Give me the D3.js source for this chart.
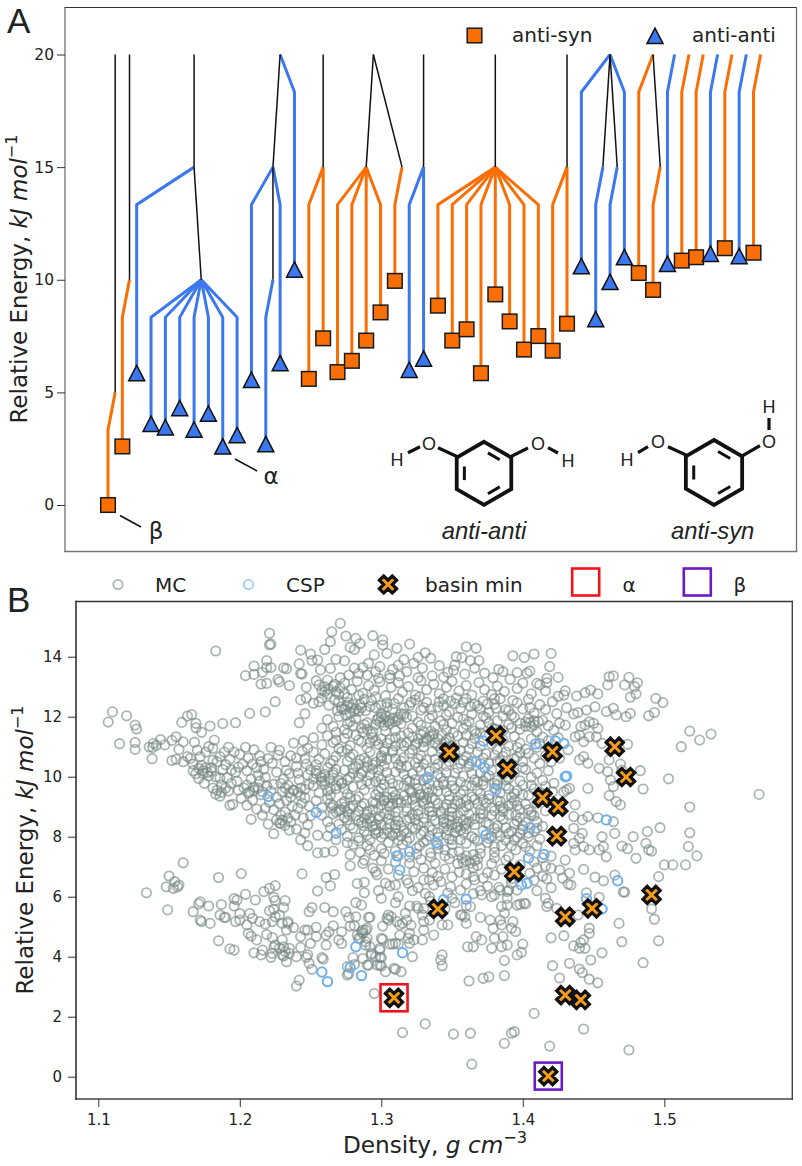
<!DOCTYPE html>
<html>
<head>
<meta charset="utf-8">
<script src="https://cdn.jsdelivr.net/npm/d3@7"></script>
<style>
html, body { margin: 0; padding: 0; background: #fff; }
svg { display: block; }
text { font-family: "DejaVu Sans", sans-serif; fill: #222; }
</style>
</head>
<body>
<div id="chart"></div>
<script>
// panel A: one entry per leaf of the disconnectivity tree
var leafKinds = ['s','s','t','t','t','t','t','t','t','t','t','t','t','t','s','s','s','s','s','s','s','t','t','s','s','s','s','s','s','s','s','s','s','t','t','t','t','s','s','t','s','s','t','s','t','s'];
var leafEnergy = [0,2.6,5.85,3.6,3.45,4.3,3.35,4.05,2.6,3.1,5.55,2.7,6.3,10.45,5.6,7.4,5.9,6.4,7.3,8.55,9.95,6.0,6.5,8.85,7.3,7.8,5.85,9.35,8.15,6.9,7.5,6.85,8.05,10.6,8.25,9.9,11.0,10.3,9.55,10.7,10.85,11.0,11.15,11.4,11.05,11.2];
var parentPos = [0.5,1.5,6,6.5,6.5,6.5,6.5,6.5,6.5,6.5,11.5,11.5,11.5,12,15,15,18,18,18,18,20.5,22,22,27,27,27,27,27,27,27,27,32,32,35,34.5,35.5,35,38,38.5,39.5,40.5,41.5,42.5,43.5,44.5,45.5];
var parentLevel = [5,10,15,10,10,10,10,10,10,10,15,10,15,20,15,15,15,15,15,15,15,15,15,15,15,15,15,15,15,15,15,15,15,20,15,15,20,20,15,20,20,20,20,20,20,20];
// black links between basins: from pos, from level, to pos, to level
var basinLinks = [[0.5,5,0.5,20],[1.5,10,1.5,20],[6.5,10,6,15],[6,15,6,20],[11.5,10,11.5,15],[11.5,15,12,20],[15,15,15,20],[18,15,18.5,20],[20.5,15,18.5,20],[22,15,22,20],[27,15,27,20],[32,15,32,20],[34.5,15,35,20],[35.5,15,35,20],[38.5,15,38,20]];
var yTicksA = [0,5,10,15,20];
var yTicksB = [0,2,4,6,8,10,12,14];
var xTicksB = [1.1,1.2,1.3,1.4,1.5];

// panel B: density, energy pairs
var basinMin = [[1.348,10.81],[1.381,11.37],[1.389,10.26],[1.421,10.83],[1.465,11.0],[1.473,9.99],[1.414,9.3],[1.425,9.0],[1.424,8.02],[1.394,6.83],[1.491,6.06],[1.34,5.59],[1.43,5.33],[1.449,5.61],[1.43,2.72],[1.441,2.56],[1.309,2.63],[1.418,0.02]];
var alphaPoint = [1.309,2.63];
var betaPoint = [1.418,0.02];
var cspPoints = [[1.22,9.34],[1.254,8.81],[1.268,8.12],[1.311,7.36],[1.32,7.5],[1.313,6.89],[1.339,7.8],[1.374,8.06],[1.405,8.3],[1.404,7.29],[1.399,6.39],[1.403,6.45],[1.36,5.92],[1.344,5.9],[1.315,4.13],[1.282,4.33],[1.278,3.64],[1.286,3.37],[1.258,3.49],[1.262,3.17],[1.372,11.19],[1.409,11.09],[1.423,11.19],[1.429,11.11],[1.367,10.5],[1.373,10.3],[1.333,9.98],[1.43,10.0],[1.431,10.02],[1.381,9.56],[1.459,8.56],[1.415,7.41],[1.467,6.53],[1.445,5.93],[1.456,5.59],[1.34,5.6]];

var mcUpperLeft = [[1.183,14.19],[1.221,14.78],[1.221,14.4],[1.222,14.42],[1.204,13.37],[1.21,13.69],[1.21,13.41],[1.215,13.09],[1.219,13.11],[1.216,13.48],[1.219,13.87],[1.219,13.64],[1.222,13.64],[1.227,13.24],[1.228,13.16],[1.231,13.63],[1.233,13.6],[1.235,13.04],[1.243,14.22],[1.242,13.76],[1.243,13.44],[1.244,13.42],[1.271,15.11],[1.265,14.83],[1.264,14.5],[1.26,14.24],[1.275,14.69],[1.282,14.61],[1.285,14.44],[1.278,14.31],[1.281,14.24],[1.294,14.7],[1.301,14.56],[1.301,14.39],[1.311,14.28],[1.32,14.42],[1.304,14.11],[1.295,14.06],[1.25,14.09],[1.255,13.89],[1.251,13.87],[1.268,13.91],[1.274,13.86],[1.264,13.61],[1.257,13.56],[1.287,13.64],[1.291,13.78],[1.284,13.44],[1.277,13.39],[1.299,13.67],[1.306,13.39],[1.306,13.28],[1.296,13.5],[1.29,13.39],[1.207,12.11],[1.218,12.16],[1.225,12.5],[1.243,12.56],[1.247,12.62],[1.252,12.45],[1.256,12.5],[1.246,12.1],[1.242,11.8]];
var mcLeftWing = [[1.11,12.16],[1.107,11.82],[1.12,12.03],[1.126,11.72],[1.127,11.59],[1.115,11.1],[1.126,11.14],[1.126,10.91],[1.136,10.99],[1.138,10.6],[1.139,11.11],[1.144,11.24],[1.1385,10.97],[1.141,11.05],[1.147,11.06],[1.152,11.21],[1.152,10.54],[1.155,11.33],[1.155,10.58],[1.16,11.16],[1.157,10.91],[1.16,10.5],[1.159,11.81],[1.163,12.02],[1.166,12.07],[1.169,11.78],[1.169,11.63],[1.173,11.48],[1.179,11.69],[1.188,11.77],[1.197,11.8],[1.163,10.67],[1.165,10.61],[1.167,10.2],[1.17,10.89],[1.172,10.67],[1.174,10.11],[1.171,9.94],[1.178,11],[1.182,11.22],[1.186,10.67],[1.168,11.15],[1.176,10.82],[1.181,10.95],[1.184,10.5],[1.176,10.3],[1.18,10.18],[1.183,10.0],[1.187,9.72],[1.175,9.78],[1.192,10.98],[1.196,10.82],[1.193,10.58],[1.19,10.4],[1.2,10.75],[1.204,10.98],[1.202,10.42],[1.197,10.15],[1.205,10.2],[1.198,9.85],[1.203,9.62],[1.192,9.52],[1.186,9.35],[1.193,9.05],[1.195,9.08],[1.205,9.05],[1.21,10.9],[1.214,10.7],[1.212,10.3],[1.208,9.92],[1.21,9.65],[1.215,9.4],[1.212,8.92],[1.208,8.58],[1.216,8.72],[1.22,8.42],[1.224,8.1],[1.222,10.98],[1.22,10.6],[1.223,10.45],[1.226,10.15],[1.218,9.98],[1.224,9.75],[1.23,9.5],[1.228,9.1],[1.232,8.82],[1.236,8.5],[1.24,8.25],[1.243,7.9],[1.228,10.88],[1.232,10.5],[1.238,11.12],[1.245,11.2],[1.236,10.7],[1.24,10.35],[1.244,10.85],[1.248,10.95],[1.235,10.1],[1.242,9.9],[1.238,9.55],[1.246,9.3],[1.241,8.95],[1.25,8.7],[1.248,8.4],[1.235,8.22],[1.228,8.45],[1.248,7.7],[1.255,7.46],[1.26,7.48],[1.266,7.52],[1.255,8.05],[1.167,10.42],[1.173,10.38],[1.178,10.02],[1.181,10.55],[1.189,10.82],[1.188,10.24],[1.191,9.96],[1.194,9.78],[1.199,9.55],[1.206,9.45],[1.201,9.28],[1.209,9.22],[1.213,10.05],[1.217,10.25],[1.219,9.7],[1.222,9.52],[1.226,9.32],[1.224,8.9],[1.229,8.72],[1.227,10.72],[1.233,10.22],[1.231,9.92],[1.234,9.72],[1.236,9.32],[1.237,9.02],[1.24,10.62],[1.241,10.12],[1.243,9.62],[1.244,9.12],[1.239,8.72],[1.245,8.62],[1.246,8.12],[1.247,10.42],[1.249,9.75],[1.249,9.02],[1.215,10.5],[1.206,10.62],[1.199,10.32],[1.194,10.22],[1.186,9.95],[1.209,10.42],[1.214,9.85],[1.221,9.15],[1.218,8.95],[1.233,9.2],[1.23,8.55]];
// dense middle of the cloud, rows from the top down
var mcCoreRow1 = [[1.312,13.72],[1.318,13.5],[1.323,13.78],[1.329,13.62],[1.336,13.36],[1.331,14.13],[1.335,13.95],[1.326,13.98],[1.316,13.9],[1.341,13.7],[1.347,13.48],[1.352,13.72],[1.36,14.33],[1.367,14.28],[1.353,14.0],[1.357,13.97],[1.363,13.87],[1.369,13.87],[1.351,13.55],[1.359,13.42],[1.366,13.62],[1.373,13.45],[1.383,13.58],[1.386,13.5],[1.393,14.03],[1.401,13.97],[1.408,14.09],[1.42,14.11],[1.419,13.67],[1.396,13.47],[1.405,13.52],[1.403,13.45],[1.379,13.3],[1.308,13.58],[1.271,13.3],[1.262,13.22],[1.254,13.2],[1.281,13.62],[1.298,13.28],[1.313,13.36],[1.326,13.3],[1.344,13.32]];
var mcCoreRow2 = [[1.247,12.98],[1.256,13.06],[1.26,12.84],[1.266,13.02],[1.27,12.74],[1.274,13.12],[1.279,12.9],[1.283,13.18],[1.287,12.78],[1.291,13.04],[1.295,12.88],[1.299,13.16],[1.303,12.7],[1.307,12.98],[1.312,13.14],[1.315,12.82],[1.319,13.0],[1.324,12.72],[1.328,13.2],[1.332,12.9],[1.337,13.08],[1.341,12.76],[1.346,12.98],[1.35,13.18],[1.355,12.86],[1.36,13.04],[1.364,12.72],[1.369,13.14],[1.373,12.9],[1.378,12.74],[1.382,13.02],[1.387,12.84],[1.391,13.25],[1.396,12.94],[1.4,13.12],[1.406,12.76],[1.41,13.11],[1.412,13.06],[1.417,13.28],[1.417,13.13],[1.425,13.31],[1.416,12.86],[1.425,12.68],[1.43,12.86],[1.429,12.72],[1.438,12.69],[1.444,12.8],[1.448,12.89],[1.453,12.76],[1.464,13.36],[1.461,13.33],[1.46,13.06],[1.475,13.31],[1.481,13.13],[1.479,13.0],[1.48,12.76],[1.476,12.65],[1.472,13.06],[1.499,12.47],[1.494,12.61],[1.493,12.14],[1.489,12.03]];
var mcCoreRow3 = [[1.258,12.62],[1.263,12.38],[1.267,12.56],[1.272,12.26],[1.276,12.64],[1.28,12.42],[1.284,12.18],[1.288,12.58],[1.292,12.34],[1.296,12.66],[1.3,12.12],[1.304,12.46],[1.308,12.26],[1.312,12.6],[1.316,12.08],[1.32,12.38],[1.324,12.56],[1.328,12.22],[1.332,12.48],[1.336,12.04],[1.34,12.32],[1.344,12.6],[1.348,12.16],[1.352,12.44],[1.356,12.28],[1.36,12.6],[1.364,12.08],[1.368,12.36],[1.372,12.52],[1.376,12.14],[1.38,12.42],[1.384,12.6],[1.388,12.24],[1.392,12.06],[1.396,12.46],[1.4,12.26],[1.404,12.58],[1.408,12.12],[1.412,12.4],[1.416,12.24],[1.421,12.5],[1.424,12.1],[1.431,12.3],[1.436,12.09],[1.439,12.14],[1.445,12.22],[1.451,12.33],[1.459,12.17],[1.464,12.28],[1.466,12.06],[1.473,12.0],[1.476,12.11],[1.284,12.72],[1.293,12.54],[1.309,12.44],[1.327,12.66],[1.341,12.5],[1.353,12.62],[1.366,12.42],[1.381,12.28],[1.393,12.54],[1.405,12.3],[1.27,12.5],[1.275,12.05]];
var mcCoreRow4 = [[1.262,11.9],[1.266,11.68],[1.27,12.0],[1.274,11.56],[1.278,11.84],[1.282,11.94],[1.286,11.62],[1.29,11.8],[1.294,11.5],[1.298,11.96],[1.302,11.7],[1.306,11.88],[1.31,11.54],[1.314,11.76],[1.318,11.98],[1.322,11.62],[1.326,11.82],[1.33,11.5],[1.334,11.94],[1.338,11.68],[1.342,11.86],[1.346,11.56],[1.35,11.78],[1.354,11.98],[1.358,11.6],[1.362,11.84],[1.366,11.52],[1.37,11.72],[1.374,11.96],[1.378,11.62],[1.382,11.86],[1.386,11.54],[1.39,11.74],[1.394,11.98],[1.398,11.58],[1.402,11.82],[1.406,11.66],[1.41,11.5],[1.414,11.88],[1.418,11.7],[1.426,11.78],[1.43,11.72],[1.441,11.67],[1.444,11.72],[1.447,11.83],[1.453,11.61],[1.45,11.78],[1.28,11.7],[1.296,11.74],[1.312,11.9],[1.328,11.72],[1.344,11.74],[1.36,11.74],[1.376,11.78],[1.392,11.62],[1.408,11.86],[1.422,11.55],[1.287,11.48],[1.303,11.52],[1.319,11.46],[1.335,11.52],[1.351,11.46],[1.367,11.44]];
var mcCoreRow5 = [[1.252,11.3],[1.258,11.06],[1.262,11.36],[1.266,11.14],[1.27,10.94],[1.274,11.28],[1.278,11.04],[1.282,11.38],[1.286,11.16],[1.29,10.96],[1.294,11.3],[1.298,11.08],[1.302,10.92],[1.306,11.24],[1.31,11.02],[1.314,11.36],[1.318,11.14],[1.322,10.9],[1.326,11.26],[1.33,11.0],[1.334,11.34],[1.338,11.12],[1.342,10.94],[1.346,11.22],[1.35,11.04],[1.354,11.36],[1.358,11.14],[1.362,10.92],[1.366,11.28],[1.37,11.02],[1.374,11.38],[1.378,11.08],[1.382,10.9],[1.386,11.22],[1.39,11.02],[1.394,11.34],[1.398,11.12],[1.402,10.92],[1.406,11.26],[1.41,10.98],[1.414,11.32],[1.418,11.2],[1.425,11.3],[1.432,10.9],[1.437,11.33],[1.44,11.39],[1.443,11.17],[1.447,11.33],[1.452,11.33],[1.456,11.11],[1.474,11.08],[1.268,11.22],[1.284,11.22],[1.3,11.26],[1.316,11.02],[1.332,11.2],[1.348,11.3],[1.364,11.1],[1.38,11.26],[1.396,10.98],[1.412,11.1],[1.276,10.9],[1.292,11.14],[1.308,10.88],[1.324,11.06],[1.34,11.04],[1.356,10.88]];
var mcCoreRow6 = [[1.252,10.82],[1.256,10.58],[1.26,10.76],[1.264,10.44],[1.268,10.68],[1.272,10.84],[1.276,10.52],[1.28,10.74],[1.284,10.42],[1.288,10.62],[1.292,10.82],[1.296,10.48],[1.3,10.7],[1.304,10.58],[1.308,10.82],[1.312,10.4],[1.316,10.64],[1.32,10.78],[1.324,10.46],[1.328,10.7],[1.332,10.56],[1.336,10.84],[1.34,10.42],[1.344,10.64],[1.348,10.5],[1.352,10.8],[1.356,10.44],[1.36,10.68],[1.364,10.52],[1.368,10.82],[1.372,10.62],[1.376,10.44],[1.38,10.72],[1.384,10.54],[1.388,10.82],[1.392,10.42],[1.396,10.66],[1.4,10.5],[1.404,10.78],[1.408,10.62],[1.412,10.44],[1.416,10.7],[1.42,10.5],[1.426,10.62],[1.44,10.56],[1.443,10.67],[1.446,10.45],[1.461,10.56],[1.266,10.54],[1.278,10.66],[1.29,10.5],[1.302,10.84],[1.314,10.52],[1.326,10.6],[1.338,10.58],[1.35,10.68],[1.362,10.44],[1.374,10.76],[1.386,10.68],[1.398,10.8],[1.254,10.4],[1.246,10.6],[1.25,10.24]];
var mcCoreRow7 = [[1.254,10.2],[1.258,9.96],[1.262,10.3],[1.266,10.06],[1.27,9.88],[1.274,10.22],[1.278,9.98],[1.282,10.34],[1.286,10.1],[1.29,9.86],[1.294,10.26],[1.298,10.02],[1.302,10.36],[1.306,9.92],[1.31,10.16],[1.314,10.3],[1.318,9.9],[1.322,10.1],[1.326,10.32],[1.33,9.88],[1.334,10.18],[1.338,10.3],[1.342,9.96],[1.346,10.14],[1.35,9.86],[1.354,10.28],[1.358,10.02],[1.362,10.34],[1.366,9.9],[1.37,10.12],[1.374,9.98],[1.378,10.22],[1.382,9.88],[1.386,10.08],[1.39,9.94],[1.394,10.14],[1.398,9.86],[1.402,10.24],[1.406,9.98],[1.41,10.12],[1.414,9.88],[1.418,10.2],[1.422,9.78],[1.454,10.28],[1.46,10.17],[1.469,10.42],[1.47,10.22],[1.462,9.89],[1.464,9.67],[1.268,10.24],[1.28,10.12],[1.292,10.06],[1.304,10.14],[1.316,10.08],[1.328,10.2],[1.34,10.08],[1.352,10.12],[1.364,10.1],[1.376,10.04],[1.388,9.9],[1.26,9.86],[1.272,9.76],[1.296,9.84],[1.32,9.84],[1.344,9.84],[1.368,9.82]];
var mcCoreRow8 = [[1.252,9.7],[1.256,9.46],[1.26,9.74],[1.264,9.38],[1.268,9.6],[1.272,9.8],[1.276,9.42],[1.28,9.66],[1.284,9.34],[1.288,9.56],[1.292,9.76],[1.296,9.4],[1.3,9.62],[1.304,9.32],[1.308,9.5],[1.312,9.72],[1.316,9.36],[1.32,9.58],[1.324,9.76],[1.328,9.42],[1.332,9.62],[1.336,9.3],[1.34,9.52],[1.344,9.74],[1.348,9.36],[1.352,9.6],[1.356,9.42],[1.36,9.7],[1.364,9.32],[1.368,9.56],[1.372,9.74],[1.376,9.38],[1.38,9.62],[1.384,9.46],[1.388,9.7],[1.392,9.32],[1.396,9.54],[1.4,9.72],[1.404,9.38],[1.408,9.6],[1.412,9.48],[1.416,9.68],[1.421,9.5],[1.431,9.56],[1.433,9.61],[1.429,9.5],[1.446,9.61],[1.461,9.37],[1.262,9.52],[1.274,9.6],[1.286,9.74],[1.298,9.52],[1.31,9.38],[1.322,9.46],[1.334,9.76],[1.346,9.5],[1.358,9.54],[1.37,9.44],[1.382,9.72],[1.394,9.44],[1.406,9.72],[1.278,9.3],[1.302,9.74],[1.326,9.6],[1.35,9.7]];
var mcCoreRow9 = [[1.254,9.2],[1.258,8.96],[1.262,9.26],[1.266,9.04],[1.27,8.86],[1.274,9.18],[1.278,8.94],[1.282,9.24],[1.286,9.02],[1.29,8.84],[1.294,9.16],[1.298,8.92],[1.302,9.22],[1.306,9.0],[1.31,8.82],[1.314,9.14],[1.318,8.96],[1.322,9.24],[1.326,8.88],[1.33,9.1],[1.334,8.98],[1.338,9.22],[1.342,8.84],[1.346,9.08],[1.35,8.94],[1.354,9.2],[1.358,8.86],[1.362,9.06],[1.366,9.24],[1.37,8.9],[1.374,9.12],[1.378,8.96],[1.382,9.2],[1.386,8.84],[1.39,9.04],[1.394,9.2],[1.398,8.9],[1.402,9.08],[1.406,8.82],[1.41,9.12],[1.416,8.86],[1.437,9.06],[1.466,9.17],[1.469,9.06],[1.518,8.99],[1.264,9.12],[1.276,8.82],[1.288,9.1],[1.3,9.06],[1.312,9.24],[1.324,9.06],[1.336,8.84],[1.348,9.24],[1.36,9.0],[1.372,9.24],[1.384,9.02],[1.396,9.04],[1.284,8.86],[1.308,9.1],[1.332,9.24],[1.356,9.1],[1.38,8.86]];
var mcCoreRow10 = [[1.258,8.72],[1.262,8.5],[1.266,8.76],[1.27,8.42],[1.274,8.64],[1.278,8.38],[1.282,8.7],[1.286,8.48],[1.29,8.74],[1.294,8.34],[1.298,8.58],[1.302,8.76],[1.306,8.42],[1.31,8.66],[1.314,8.36],[1.318,8.56],[1.322,8.74],[1.326,8.4],[1.33,8.62],[1.334,8.34],[1.338,8.54],[1.342,8.76],[1.346,8.44],[1.35,8.68],[1.354,8.34],[1.358,8.56],[1.362,8.74],[1.366,8.4],[1.37,8.62],[1.374,8.46],[1.378,8.72],[1.382,8.36],[1.386,8.58],[1.39,8.74],[1.394,8.42],[1.398,8.64],[1.402,8.48],[1.406,8.72],[1.41,8.5],[1.436,8.67],[1.442,8.56],[1.446,8.67],[1.453,8.63],[1.464,8.5],[1.414,8.35],[1.276,8.56],[1.288,8.62],[1.3,8.4],[1.312,8.52],[1.324,8.56],[1.336,8.7],[1.348,8.56],[1.36,8.44],[1.372,8.76],[1.384,8.68],[1.396,8.52],[1.264,8.3]];
var mcCoreRow11 = [[1.272,8.24],[1.276,8.02],[1.28,8.28],[1.284,7.96],[1.288,8.18],[1.292,7.9],[1.296,8.24],[1.3,7.98],[1.304,8.26],[1.308,8.04],[1.312,7.88],[1.316,8.2],[1.32,7.96],[1.324,8.26],[1.328,8.06],[1.332,7.88],[1.336,8.22],[1.34,7.98],[1.344,8.28],[1.348,7.92],[1.352,8.14],[1.356,7.9],[1.36,8.26],[1.364,8.0],[1.368,7.86],[1.372,8.2],[1.376,7.94],[1.38,8.28],[1.384,8.02],[1.388,7.88],[1.392,8.18],[1.396,7.98],[1.4,8.24],[1.404,8.0],[1.408,8.18],[1.412,7.92],[1.436,8.28],[1.442,8.11],[1.44,7.95],[1.456,8.0],[1.465,8.11],[1.478,8.0],[1.488,8.17],[1.497,8.3],[1.518,8.13],[1.31,8.28],[1.334,8.02],[1.358,8.12],[1.382,8.14],[1.29,8.06],[1.346,8.06],[1.394,7.9]];
var mcCoreRow12 = [[1.28,7.74],[1.285,7.48],[1.29,7.7],[1.295,7.38],[1.3,7.6],[1.305,7.8],[1.31,7.52],[1.315,7.74],[1.32,7.32],[1.325,7.62],[1.33,7.82],[1.335,7.46],[1.34,7.6],[1.345,7.36],[1.35,7.74],[1.355,7.5],[1.36,7.78],[1.365,7.4],[1.37,7.62],[1.375,7.8],[1.38,7.48],[1.385,7.7],[1.39,7.34],[1.395,7.56],[1.4,7.78],[1.405,7.52],[1.41,7.7],[1.414,7.3],[1.42,7.35],[1.436,7.78],[1.457,7.67],[1.443,7.67],[1.47,7.69],[1.474,7.6],[1.489,7.56],[1.491,7.52],[1.487,7.78],[1.517,7.67],[1.523,7.36],[1.447,7.56],[1.437,7.56],[1.454,7.56],[1.459,7.33],[1.48,7.28],[1.278,7.4],[1.288,7.22],[1.3,7.2],[1.31,7.16],[1.328,7.24],[1.338,7.12],[1.348,7.26],[1.358,7.14],[1.368,7.26],[1.378,7.1],[1.388,7.22],[1.398,7.06],[1.408,7.16],[1.43,7.22],[1.416,7.02]];
var mcCoreRow13 = [[1.278,7.03],[1.287,7.11],[1.294,6.95],[1.297,6.73],[1.296,6.83],[1.32,7.11],[1.323,6.83],[1.33,6.95],[1.345,6.92],[1.355,6.82],[1.365,6.95],[1.375,6.8],[1.385,6.92],[1.405,6.78],[1.426,6.89],[1.42,6.95],[1.433,6.78],[1.443,6.91],[1.465,6.72],[1.457,6.53],[1.451,6.65],[1.496,6.67],[1.5,7.06],[1.506,7.06],[1.515,7.06],[1.305,6.92],[1.312,6.72],[1.336,6.8],[1.35,6.66],[1.36,6.76],[1.372,6.62],[1.38,6.72],[1.392,6.6],[1.41,6.95],[1.414,6.68],[1.428,6.62],[1.34,6.68]];
// the darkest patches of the cloud, where circles pile on top of each other
var mcClumpsUpper = [[1.26,13.0],[1.263,12.92],[1.258,12.88],[1.267,13.08],[1.271,12.96],[1.262,12.76],[1.268,12.84],[1.274,12.78],[1.276,12.38],[1.279,12.3],[1.274,12.24],[1.282,12.26],[1.277,12.46],[1.285,12.4],[1.272,12.34],[1.281,12.18],[1.286,12.3],[1.278,12.12],[1.269,12.2],[1.289,12.2],[1.302,11.92],[1.305,11.84],[1.299,11.82],[1.308,11.94],[1.303,12.02],[1.31,11.84],[1.297,11.9],[1.306,11.76],[1.312,11.98],[1.3,12.0],[1.314,12.1],[1.296,12.3],[1.3,12.38],[1.304,12.32],[1.316,12.3],[1.321,12.48],[1.33,12.3],[1.335,12.26],[1.344,12.38],[1.349,12.52],[1.358,12.48],[1.363,12.34],[1.37,12.26],[1.375,12.42],[1.38,12.6],[1.332,11.28],[1.336,11.36],[1.328,11.4],[1.34,11.26],[1.33,11.16],[1.343,11.38],[1.325,11.12],[1.337,11.44],[1.345,11.14],[1.322,11.32],[1.405,11.8],[1.408,11.72],[1.402,11.68],[1.411,11.84],[1.398,11.78],[1.404,11.94],[1.386,12.02],[1.39,12.2],[1.372,12.02],[1.358,11.92],[1.346,12.06],[1.322,12.02],[1.288,11.74],[1.276,11.76],[1.29,11.58],[1.276,11.44],[1.293,11.42],[1.268,11.48],[1.258,11.62],[1.31,11.3],[1.296,11.2],[1.304,11.12],[1.314,11.12],[1.36,11.38],[1.37,11.46],[1.38,11.6]];
var mcClumpsMiddle = [[1.257,10.0],[1.26,10.08],[1.254,10.1],[1.263,9.94],[1.252,9.92],[1.266,10.14],[1.258,9.84],[1.248,10.06],[1.238,9.55],[1.241,9.48],[1.235,9.46],[1.243,9.36],[1.232,9.62],[1.246,9.58],[1.229,9.78],[1.21,9.55],[1.213,9.62],[1.207,9.5],[1.216,9.5],[1.205,9.72],[1.174,10.2],[1.177,10.14],[1.171,10.28],[1.18,10.3],[1.169,10.1],[1.184,9.55],[1.187,9.48],[1.181,9.62],[1.19,9.62],[1.183,9.42],[1.29,10.3],[1.294,10.4],[1.287,10.18],[1.298,10.24],[1.28,10.28],[1.3,10.52],[1.285,10.56],[1.31,10.6],[1.327,9.4],[1.33,9.32],[1.324,9.3],[1.333,9.46],[1.321,9.5],[1.336,9.56],[1.329,9.18],[1.318,9.2],[1.302,9.2],[1.305,9.12],[1.299,9.3],[1.308,9.3],[1.296,9.12],[1.311,9.14],[1.271,8.9],[1.274,8.98],[1.268,8.82],[1.277,8.74],[1.265,8.96],[1.28,9.04],[1.272,9.1],[1.29,8.45],[1.293,8.52],[1.287,8.38],[1.296,8.4],[1.284,8.54],[1.299,8.68],[1.292,8.62],[1.229,8.45],[1.232,8.38],[1.226,8.56],[1.234,8.62],[1.353,8.3],[1.356,8.22],[1.35,8.4],[1.359,8.36],[1.347,8.22],[1.362,8.5],[1.344,8.48],[1.354,8.5],[1.34,9.1],[1.344,8.96],[1.352,9.08],[1.36,9.22],[1.368,9.1],[1.376,9.26],[1.384,9.18],[1.392,9.1],[1.3,9.9],[1.308,9.78],[1.316,9.7],[1.324,9.9],[1.332,9.94],[1.34,9.72],[1.356,9.82],[1.364,9.7],[1.372,9.86],[1.38,9.78],[1.39,9.6],[1.4,9.4],[1.276,9.9],[1.284,9.98],[1.268,9.7],[1.264,9.6],[1.3,10.62],[1.318,10.34],[1.33,10.42],[1.346,10.36],[1.358,10.54],[1.37,10.44],[1.382,10.52],[1.394,10.6],[1.4,10.3]];
var mcClumpsLower = [[1.306,8.14],[1.31,8.1],[1.302,8.1],[1.314,8.02],[1.298,8.16],[1.318,8.12],[1.322,8.3],[1.33,8.18],[1.34,8.14],[1.36,7.2],[1.363,7.12],[1.357,7.28],[1.366,7.2],[1.354,7.1],[1.368,7.04],[1.36,7.36],[1.35,7.46],[1.37,7.44],[1.38,7.3],[1.327,7.7],[1.318,7.86],[1.34,7.74],[1.35,7.9],[1.366,7.94],[1.378,8.0],[1.39,8.1],[1.398,8.12],[1.388,8.3],[1.376,8.4],[1.366,8.6],[1.354,8.72],[1.344,8.6],[1.33,8.48],[1.31,8.4],[1.32,8.62],[1.305,8.6],[1.294,8.9],[1.306,8.74],[1.318,8.84],[1.326,8.74],[1.334,8.84],[1.35,8.82],[1.37,8.76],[1.386,8.94],[1.395,8.72],[1.404,8.9],[1.408,8.7],[1.4,8.36],[1.41,8.28],[1.404,8.12],[1.38,7.66],[1.392,7.7],[1.402,7.66],[1.292,7.56],[1.302,7.44],[1.312,7.36],[1.325,7.42],[1.335,7.32],[1.345,7.56],[1.284,7.86],[1.276,7.8],[1.268,7.9],[1.262,8.02],[1.296,8.1]];
var mcRight = [[1.567,9.41],[1.533,11.42],[1.525,11.22],[1.518,11.52],[1.512,11.0],[1.503,9.93],[1.483,10.2],[1.485,9.59]];
var mcLowLeft = [[1.16,7.13],[1.134,6.13],[1.15,6.69],[1.154,6.5],[1.157,6.39],[1.148,6.33],[1.153,6.28],[1.156,6.33],[1.149,5.56],[1.167,5.5],[1.172,5.83],[1.171,5.76],[1.172,5.22],[1.173,5.17],[1.179,5.11],[1.178,5.69],[1.185,6.64],[1.201,6.77],[1.187,5.74],[1.186,5.39],[1.189,5.31],[1.19,5.31],[1.196,5.94],[1.196,5.69],[1.198,5.89],[1.204,6.08],[1.211,5.89],[1.2,5.44],[1.2,5.22],[1.197,5.17],[1.207,5.44],[1.209,5.28],[1.205,5.06],[1.206,4.78],[1.208,4.69],[1.212,4.56],[1.185,4.53],[1.193,4.26],[1.196,4.22],[1.21,4.13],[1.216,4.22],[1.215,4.06],[1.222,3.98],[1.223,4.11],[1.214,5.17],[1.218,5.09],[1.219,4.74],[1.217,6.17],[1.221,6.28],[1.225,6.37],[1.224,5.98],[1.225,5.87],[1.232,5.87],[1.221,5.53],[1.224,5.58],[1.231,5.64],[1.228,5.39],[1.225,5.33],[1.223,5.17],[1.234,5.17],[1.234,5.11],[1.23,5.11],[1.238,4.97],[1.233,4.89],[1.223,4.64],[1.225,4.39],[1.23,4.56],[1.231,4.33],[1.224,4.31],[1.228,4.28],[1.235,4.28],[1.232,4.17],[1.23,4.06],[1.235,4.11],[1.233,3.83],[1.231,4.02],[1.24,4.0],[1.243,4.31],[1.243,4.67],[1.246,4.89],[1.248,4.89],[1.254,4.98],[1.254,4.67],[1.25,4.44],[1.248,4.06],[1.247,3.98],[1.249,3.78],[1.251,3.58],[1.258,3.97],[1.259,3.92],[1.261,4.72],[1.263,4.83],[1.261,4.39],[1.24,3.02],[1.242,3.22],[1.295,2.77],[1.249,5.5],[1.251,5.64],[1.26,5.64],[1.266,5.5],[1.266,5.03],[1.255,6.19],[1.244,6.76],[1.261,6.64],[1.264,6.36],[1.267,6.74],[1.272,4.83],[1.27,4.56],[1.272,4.44],[1.275,5.5],[1.277,5.31],[1.278,5.02],[1.282,5.33],[1.281,5.03],[1.282,5.8],[1.286,5.72],[1.292,5.31],[1.283,6.44],[1.288,6.48],[1.288,6.13],[1.28,3.97],[1.276,3.67],[1.281,3.74],[1.276,3.39],[1.277,3.44],[1.287,3.94],[1.289,4.39],[1.29,4.61],[1.289,4.89],[1.287,4.89],[1.284,4.61],[1.283,4.72],[1.291,3.72],[1.29,3.72],[1.293,4.06],[1.3,3.97],[1.299,4.22],[1.297,3.72],[1.3,3.69],[1.303,3.5],[1.31,3.58],[1.301,4.58],[1.308,4.42],[1.312,4.42]];
var mcLowMid = [[1.315,1.47],[1.303,6.45],[1.306,6.36],[1.31,6.39],[1.318,6.56],[1.319,6.45],[1.33,6.56],[1.334,6.56],[1.331,6.11],[1.342,6.5],[1.349,6.33],[1.356,6.22],[1.337,6.39],[1.334,6.0],[1.365,6.67],[1.366,6.56],[1.371,6.06],[1.378,6.0],[1.38,6.06],[1.383,6.31],[1.39,6.22],[1.396,6.22],[1.385,5.67],[1.389,5.72],[1.396,5.72],[1.402,5.76],[1.32,5.69],[1.325,5.69],[1.326,5.61],[1.33,5.61],[1.329,5.39],[1.33,5.17],[1.334,5.22],[1.305,5.39],[1.307,5.33],[1.304,5.28],[1.305,5.22],[1.318,5.22],[1.313,5.06],[1.311,5.17],[1.301,5.02],[1.291,5.31],[1.343,5.06],[1.347,5.06],[1.337,4.72],[1.33,4.89],[1.32,4.78],[1.319,4.61],[1.323,4.56],[1.32,4.45],[1.329,4.56],[1.313,4.72],[1.3,4.61],[1.299,4.28],[1.306,4.42],[1.31,4.45],[1.322,4.0],[1.356,5.39],[1.359,5.33],[1.36,5.11],[1.37,5.31],[1.377,5.22],[1.379,4.95],[1.384,5.22],[1.385,5.06],[1.393,5.17],[1.392,4.95],[1.367,4.67],[1.371,4.56],[1.38,4.61],[1.386,4.67],[1.395,4.84],[1.361,4.33],[1.365,4.33],[1.378,4.28],[1.385,4.33],[1.389,4.39],[1.4,4.42],[1.396,4.06],[1.399,4.15],[1.387,3.87],[1.343,4.06],[1.342,3.89],[1.343,3.7],[1.372,3.28],[1.376,3.33],[1.387,3.37],[1.362,3.19],[1.314,3.5],[1.309,3.61],[1.299,3.98],[1.299,3.72],[1.286,4.83],[1.29,4.95],[1.287,4.78],[1.285,4.61],[1.289,4.5],[1.292,4.33],[1.296,4.0],[1.293,4.11],[1.401,5.78],[1.398,5.75],[1.389,5.95],[1.389,6.17],[1.384,6.22],[1.37,6.2],[1.363,5.67],[1.357,5.39],[1.387,5.45],[1.36,5.7],[1.315,5.11],[1.317,5.45],[1.321,5.05],[1.335,5.85],[1.345,5.6],[1.352,5.8],[1.31,5.8],[1.3,5.95],[1.312,6.0],[1.322,6.2],[1.298,6.2],[1.326,6.3],[1.347,6.12],[1.36,6.42],[1.375,6.35],[1.392,6.45],[1.365,6.1],[1.35,5.95]];
var mcBottomRight = [[1.364,0.42],[1.351,1.42],[1.363,1.45],[1.331,1.76],[1.387,1.11],[1.392,1.45],[1.394,1.5],[1.408,2.11],[1.419,1.02],[1.443,1.59],[1.475,0.89],[1.426,3.29],[1.421,3.7],[1.433,3.78],[1.44,3.59],[1.442,3.47],[1.447,3.25],[1.453,3.13],[1.485,3.8],[1.42,4.63],[1.429,4.7],[1.436,4.36],[1.44,4.28],[1.441,4.47],[1.444,4.28],[1.443,4.56],[1.448,3.89],[1.456,4.13],[1.447,4.95],[1.447,4.78],[1.468,5.11],[1.47,4.5],[1.496,4.53],[1.493,5.25],[1.491,5.59],[1.471,6.16],[1.472,6.15],[1.445,6.13],[1.454,5.98],[1.439,5.39],[1.432,6.42],[1.434,6.39],[1.416,5.95],[1.418,5.78],[1.424,5.61],[1.417,5.67],[1.41,6.2],[1.42,6.3],[1.408,6.55],[1.417,6.6]];

var allMc = [].concat(mcUpperLeft, mcLeftWing, mcCoreRow1, mcCoreRow2, mcCoreRow3, mcCoreRow4, mcCoreRow5, mcCoreRow6, mcCoreRow7, mcCoreRow8, mcCoreRow9, mcCoreRow10, mcCoreRow11, mcCoreRow12, mcCoreRow13, mcClumpsUpper, mcClumpsMiddle, mcClumpsLower, mcRight, mcLowLeft, mcLowMid, mcBottomRight);

var blue = '#3b78f0', orange = '#f96f06', basinFill = '#f59d1c', mcStroke = '#778886', cspStroke = '#6fb1ef';

var svg = d3.select('#chart').append('svg').attr('width', 802).attr('height', 1166);

// --- panel A ---
var xA = d3.scaleLinear().domain([0, 45]).range([108, 753.5]);
var yA = d3.scaleLinear().domain([0, 20]).range([505, 54.5]);
var gA = svg.append('g');

function frame(g, l, t, r, b, colors, widths) {
    // top, right, bottom, left
    var sides = [[l,t,r,t],[r,t,r,b],[l,b,r,b],[l,t,l,b]];
    sides.forEach(function(s, i){
        g.append('line').attr('x1', s[0]).attr('y1', s[1]).attr('x2', s[2]).attr('y2', s[3])
            .attr('stroke', colors[i]).attr('stroke-width', widths[i]).attr('stroke-linecap', 'square');
    });
}
frame(gA, 65, 7.5, 796.5, 551.5, ['#333','#666','#777','#666'], [1,1.2,1.6,1.2]);

var axisA = d3.axisLeft(yA).tickValues(yTicksA).tickSize(8).tickPadding(3).tickFormat(d3.format('d'));
var axA = gA.append('g').attr('transform', 'translate(65,0)').call(axisA);
axA.select('.domain').remove();
axA.selectAll('line').attr('stroke', '#333').attr('stroke-width', 1);
axA.selectAll('text').attr('font-size', 15.5).attr('fill', '#222');

// leaf branches: straight up, then a bend into the parent basin
var bendBelow = 5 / 3;
var branchLine = d3.line().x(function(d){ return xA(d[0]); }).y(function(d){ return yA(d[1]); });
gA.selectAll('path.branch').data(leafEnergy).enter().append('path')
    .attr('class', 'branch')
    .attr('fill', 'none')
    .attr('stroke-width', 3)
    .attr('stroke', function(d, i){ return leafKinds[i] === 's' ? orange : blue; })
    .attr('d', function(d, i){
        return branchLine([[i, d], [i, parentLevel[i] - bendBelow], [parentPos[i], parentLevel[i]]]);
    });
gA.selectAll('line.link').data(basinLinks).enter().append('line')
    .attr('class', 'link')
    .attr('stroke', '#111').attr('stroke-width', 1.5)
    .attr('x1', function(d){ return xA(d[0]); }).attr('y1', function(d){ return yA(d[1]); })
    .attr('x2', function(d){ return xA(d[2]); }).attr('y2', function(d){ return yA(d[3]); });

var trianglePath = 'M0,-7.8L8,7.6L-8,7.6Z';
function addMarker(g, kind, cx, cy) {
    if (kind === 's') {
        return g.append('rect').attr('x', cx - 7.3).attr('y', cy - 7.3).attr('width', 14.6).attr('height', 14.6)
            .attr('fill', orange).attr('stroke', '#1a1a1a').attr('stroke-width', 1.5);
    }
    return g.append('path').attr('d', trianglePath).attr('transform', 'translate(' + cx + ',' + cy + ')')
        .attr('fill', blue).attr('stroke', '#111').attr('stroke-width', 1.5);
}
leafEnergy.forEach(function(d, i){ addMarker(gA, leafKinds[i], xA(i), yA(d)); });

addMarker(gA, 's', 474.5, 35.5);
gA.append('text').attr('x', 512).attr('y', 41.5).attr('font-size', 20).text('anti-syn');
addMarker(gA, 't', 655, 36);
gA.append('text').attr('x', 692).attr('y', 41.5).attr('font-size', 20).text('anti-anti');

// polymorph callouts next to the two lowest leaves
function callout(g, x1, y1, x2, y2, tx, ty, label) {
    g.append('line').attr('x1', x1).attr('y1', y1).attr('x2', x2).attr('y2', y2).attr('stroke', '#111').attr('stroke-width', 1.5);
    g.append('text').attr('x', tx).attr('y', ty).attr('font-size', 23).attr('text-anchor', 'middle').text(label);
}
callout(gA, 235, 459, 257, 471, 271, 484, 'α');
callout(gA, 120, 515.5, 141, 527, 156, 539, 'β');

function yLabel(g, cx, cy, size) {
    var t = g.append('text').attr('transform', 'translate(' + cx + ',' + cy + ') rotate(-90)')
        .attr('text-anchor', 'middle').attr('font-size', size).attr('fill', '#222');
    t.append('tspan').text('Relative Energy, ');
    t.append('tspan').attr('font-style', 'italic').text('kJ mol');
    t.append('tspan').attr('font-size', size * 0.7).attr('dy', -size * 0.42).text('\u22121');
}
yLabel(gA, 27, 279, 23);

gA.append('text').attr('x', 7).attr('y', 33).attr('font-size', 35).attr('fill', '#000').style('font-family', 'Liberation Sans').text('A');

// resorcinol sketches
function molecule(g, cx, cy, r, bonds, atoms, name, nameX) {
    var dx = r * Math.sqrt(3) / 2, dy = r / 2;
    var ring = [[cx,cy-r],[cx+dx,cy-dy],[cx+dx,cy+dy],[cx,cy+r],[cx-dx,cy+dy],[cx-dx,cy-dy]];
    g.append('path').attr('d', 'M' + ring.join('L') + 'Z').attr('fill', 'none').attr('stroke', '#111').attr('stroke-width', 3.8).attr('stroke-linejoin', 'miter');
    // inner double bonds
    [[5,4],[1,0],[2,3]].forEach(function(p){
        var a = ring[p[0]], b = ring[p[1]], f = 0.72, t0 = 0.2, t1 = 0.8;
        g.append('line')
            .attr('x1', cx + (a[0] + (b[0]-a[0])*t0 - cx)*f).attr('y1', cy + (a[1] + (b[1]-a[1])*t0 - cy)*f)
            .attr('x2', cx + (a[0] + (b[0]-a[0])*t1 - cx)*f).attr('y2', cy + (a[1] + (b[1]-a[1])*t1 - cy)*f)
            .attr('stroke', '#111').attr('stroke-width', 3);
    });
    bonds.forEach(function(b){
        g.append('line').attr('x1', b[0]).attr('y1', b[1]).attr('x2', b[2]).attr('y2', b[3])
            .attr('stroke', '#111').attr('stroke-width', 3.2);
    });
    atoms.forEach(function(a){
        g.append('text').attr('x', a[0]).attr('y', a[1] + 6.5).attr('text-anchor', 'middle')
            .style('font-family', 'Liberation Sans').attr('font-size', 18).attr('fill', '#111').text(a[2]);
    });
    g.append('text').attr('x', nameX).attr('y', 538.5).attr('text-anchor', 'middle')
        .style('font-family', 'Liberation Sans').attr('font-style', 'italic').attr('font-size', 23.8).attr('fill', '#111').text(name);
}
molecule(gA, 484, 473.3, 31.5,
    [[458,457,438,447.7],[420,446.7,408,452.7],[510,457,528,448],[548,447.7,558,453]],
    [[429,443,'O'],[397,459,'H'],[538,443,'O'],[568,460,'H']], 'anti-anti', 484);
molecule(gA, 714, 472.5, 32.5,
    [[686,455,668,446.7],[648,446.7,638,452.7],[742,456,760,445.7],[769,430,769,418]],
    [[658,441.7,'O'],[627,459,'H'],[769,441.7,'O'],[769,406,'H']], 'anti-syn', 712.7);

// --- panel B ---
var xB = d3.scaleLinear().domain([1.1, 1.5]).range([98.3, 664.3]);
var yB = d3.scaleLinear().domain([0, 14]).range([1076.7, 656.7]);
var gB = svg.append('g');

frame(gB, 76, 601.5, 792.3, 1099, ['#333','#444','#444','#333'], [1.3,1.4,1.6,1.6]);

var axBy = gB.append('g').attr('transform', 'translate(76,0)').call(d3.axisLeft(yB).tickValues(yTicksB).tickSize(8).tickPadding(6).tickFormat(d3.format('d')));
axBy.select('.domain').remove();
axBy.selectAll('line').attr('stroke', '#333').attr('stroke-width', 1);
axBy.selectAll('text').attr('font-size', 15).attr('fill', '#222');
var axBx = gB.append('g').attr('transform', 'translate(0,1099)').call(d3.axisBottom(xB).tickValues(xTicksB).tickSize(8).tickPadding(7).tickFormat(d3.format('.1f')));
axBx.select('.domain').remove();
axBx.selectAll('line').attr('stroke', '#333').attr('stroke-width', 1);
axBx.selectAll('text').attr('font-size', 15).attr('fill', '#222');

gB.selectAll('circle.mc').data(allMc).enter().append('circle')
    .attr('class', 'mc')
    .attr('cx', function(d){ return xB(d[0]); })
    .attr('cy', function(d){ return yB(d[1]); })
    .attr('r', 4.7)
    .attr('fill', 'none').attr('stroke', mcStroke).attr('stroke-width', 1.8).attr('stroke-opacity', 0.62);

gB.selectAll('circle.csp').data(cspPoints).enter().append('circle')
    .attr('class', 'csp')
    .attr('cx', function(d){ return xB(d[0]); })
    .attr('cy', function(d){ return yB(d[1]); })
    .attr('r', 4.7)
    .attr('fill', 'none').attr('stroke', cspStroke).attr('stroke-width', 2);

var s = 8.6;
var crossPath = d3.line()([[-s,-s/2],[-s/2,-s],[0,-s/2],[s/2,-s],[s,-s/2],[s/2,0],[s,s/2],[s/2,s],[0,s/2],[-s/2,s],[-s,s/2],[-s/2,0]]) + 'Z';
function addCross(g, cx, cy) {
    g.append('path').attr('d', crossPath).attr('transform', 'translate(' + cx + ',' + cy + ')')
        .attr('fill', basinFill).attr('stroke', '#111').attr('stroke-width', 3.2).attr('stroke-linejoin', 'miter');
}
basinMin.forEach(function(d){ addCross(gB, xB(d[0]), yB(d[1])); });

function addBox(g, cx, cy, color) {
    g.append('rect').attr('x', cx - 13.5).attr('y', cy - 13.5).attr('width', 27).attr('height', 27)
        .attr('fill', 'none').attr('stroke', color).attr('stroke-width', 2.6);
}
var alphaColor = '#f2141a', betaColor = '#6a1cc4';
addBox(gB, xB(alphaPoint[0]), yB(alphaPoint[1]), alphaColor);
addBox(gB, xB(betaPoint[0]), yB(betaPoint[1]), betaColor);

// legend row
var legendY = 584.5;
gB.append('circle').attr('cx', 118).attr('cy', legendY).attr('r', 4.7).attr('fill', 'none').attr('stroke', mcStroke).attr('stroke-width', 1.8).attr('stroke-opacity', 0.62);
gB.append('text').attr('x', 155).attr('y', legendY + 7).attr('font-size', 20).text('MC');
gB.append('circle').attr('cx', 248.5).attr('cy', legendY).attr('r', 4.7).attr('fill', 'none').attr('stroke', '#a9d0f5').attr('stroke-width', 2);
gB.append('text').attr('x', 286).attr('y', legendY + 7).attr('font-size', 20).text('CSP');
addCross(gB, 388, legendY);
gB.append('text').attr('x', 425).attr('y', legendY + 7).attr('font-size', 20).text('basin min');
addBox(gB, 585.7, 582, alphaColor);
gB.append('text').attr('x', 629).attr('y', legendY + 7).attr('text-anchor', 'middle').attr('font-size', 20).text('α');
addBox(gB, 697.3, 582, betaColor);
gB.append('text').attr('x', 740).attr('y', legendY + 7).attr('text-anchor', 'middle').attr('font-size', 20).text('β');

yLabel(gB, 33, 850, 23);

var xLab = gB.append('text').attr('x', 435).attr('y', 1153).attr('text-anchor', 'middle').attr('font-size', 23.2).attr('fill', '#222');
xLab.append('tspan').text('Density, ');
xLab.append('tspan').attr('font-style', 'italic').text('g cm');
xLab.append('tspan').attr('font-size', 16.2).attr('dy', -10).text('\u22123');

gB.append('text').attr('x', 7).attr('y', 612).style('font-family', 'Liberation Sans').attr('font-size', 35).attr('fill', '#000').text('B');
</script>
</body>
</html>
